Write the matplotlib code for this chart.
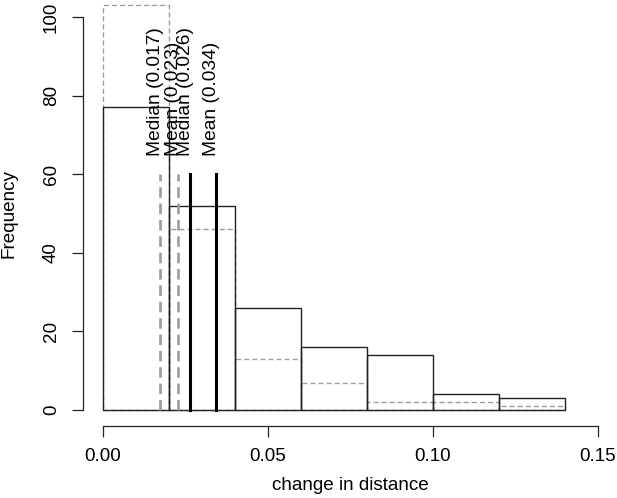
import numpy as np
import matplotlib.pyplot as plt

plt.rcParams['font.family'] = ['Liberation Sans', 'DejaVu Sans']

# histogram data
breaks = [0.00, 0.02, 0.04, 0.06, 0.08, 0.10, 0.12, 0.14]
counts_black = [77, 52, 26, 16, 14, 4, 3]
counts_gray = [103, 46, 13, 7, 2, 2, 1]

# summary lines
gray_stats = [0.0173, 0.0229]
gray_labels = ['Median (0.017)', 'Mean (0.023)']
black_stats = [0.0266, 0.0343]
black_labels = ['Median (0.026)', 'Mean (0.034)']

xticks = [0.00, 0.05, 0.10, 0.15]
xtick_labels = ['0.00', '0.05', '0.10', '0.15']
yticks = [0, 20, 40, 60, 80, 100]

W, H = 617, 498
fig = plt.figure(figsize=(W / 100, H / 100), dpi=100)
left, right, top, bottom = 82.9, 617.5, 1.2, 425.8
ax = fig.add_axes([left / W, (H - bottom) / H, (right - left) / W, (bottom - top) / H])
ax.set_xlim(-0.006, 0.156)
ax.set_ylim(-4, 104)

gray = '#9c9c9c'
widths = np.diff(breaks)
ax.bar(breaks[:-1], counts_gray, width=widths, align='edge', fill=False,
       edgecolor=gray, linewidth=1.0, linestyle=(0, (3.6, 2.2)))
ax.bar(breaks[:-1], counts_black, width=widths, align='edge', fill=False,
       edgecolor='#222222', linewidth=1.0)

for v in gray_stats:
    ax.plot([v, v], [0, 60], color=gray, linewidth=1.9, linestyle=(0, (4, 2.2)))
for v in black_stats:
    ax.plot([v, v], [0, 60], color='black', linewidth=2.2)

for v, lab in zip(gray_stats + black_stats, gray_labels + black_labels):
    ax.text(v, 64.5, lab, rotation=90, rotation_mode='anchor', ha='left',
            va='baseline', fontsize=13.8)

for s in ['top', 'right']:
    ax.spines[s].set_visible(False)
ax.spines['left'].set_bounds(0, 100)
ax.spines['bottom'].set_bounds(0, 0.15)
for s in ['left', 'bottom']:
    ax.spines[s].set_linewidth(0.9)
    ax.spines[s].set_color('#222222')

ax.set_xticks(xticks)
ax.set_xticklabels(xtick_labels)
ax.set_yticks(yticks)
ax.set_yticklabels([str(t) for t in yticks], rotation=90, va='center')
ax.tick_params(axis='both', length=7.9, width=0.9, color='#222222',
               labelsize=13.6, direction='out')
ax.tick_params(axis='x', pad=8)
ax.tick_params(axis='y', pad=8.6)

fig.text(350 / W, (H - 485.5) / H, 'change in distance', ha='center', va='center',
         fontsize=13.6)
fig.text(9.5 / W, (H - 213.5) / H, 'Frequency', rotation=90, ha='center',
         va='center', fontsize=13.6)

fig.savefig('out.png', dpi=100)
